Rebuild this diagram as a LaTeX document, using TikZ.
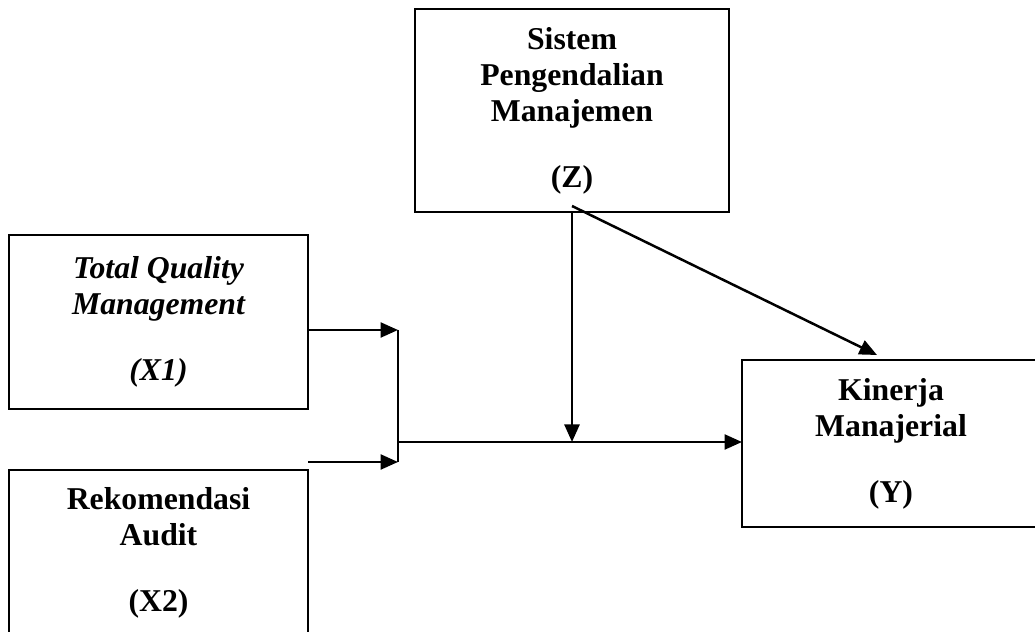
\documentclass[tikz,border=0pt]{standalone}
\usepackage{fontspec}
\setmainfont{Liberation Serif}
\usetikzlibrary{arrows.meta}
\begin{document}
\begin{tikzpicture}[x=0.4pt,y=-0.4pt,
  box/.style={draw, line width=0.8pt, rectangle, inner sep=0pt, outer sep=0pt,
    align=center, font=\fontsize{12.7}{14.4}\selectfont\bfseries},
  conn/.style={line width=1pt},
  arr/.style={conn, -{Triangle[length=7pt,width=6pt]}}]
\clip (0,0) rectangle (1035,632);
\useasboundingbox (0,0) rectangle (1035,632);
\node[box, minimum width=125.6pt, minimum height=81.2pt] (Z) at (572,110.5)
  {Sistem\\Pengendalian\\Manajemen\\[12pt](Z)};
\node[box, minimum width=119.6pt, minimum height=69.6pt] (X1) at (158.5,322)
  {\itshape Total Quality\\\itshape Management\\[12pt]\itshape (X1)};
\node[box, minimum width=119.6pt, minimum height=66.4pt] (X2) at (158.5,553)
  {Rekomendasi\\Audit\\[12pt](X2)};
\node[box, minimum width=119.2pt, minimum height=66.8pt] (Y) at (891,443.5)
  {Kinerja\\Manajerial\\[12pt](Y)};
\coordinate (j1) at (398,330);
\coordinate (j2) at (398,462);
\coordinate (jm) at (398,442);
\coordinate (m) at (572,442);
\coordinate (dz) at (572,206);
\coordinate (dt) at (877,355);
\draw[arr] (X1.east |- j1) -- (j1);
\draw[arr] (X2.east |- j2) -- (j2);
\draw[conn] (j1) -- (j2);
\draw[arr] (jm) -- (Y.west |- jm);
\draw[arr] (Z.south) -- (m);
\draw[arr] (dz) -- (dt);
\end{tikzpicture}
\end{document}
